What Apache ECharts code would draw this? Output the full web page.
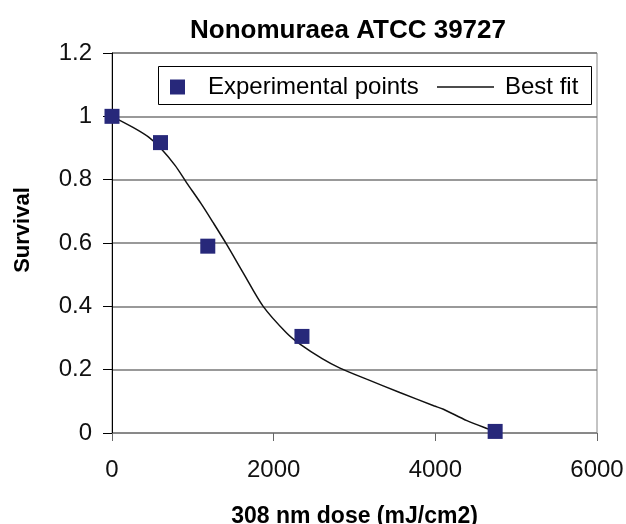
<!DOCTYPE html>
<html><head><meta charset="utf-8">
<script src="https://cdn.jsdelivr.net/npm/echarts@6/dist/echarts.min.js"></script>
<style>html,body{margin:0;padding:0;background:#fff}#c{width:626px;height:524px}</style>
</head><body><div id="c"></div>
<script>
const titleText = "Nonomuraea ATCC 39727";
const xName = "308 nm dose (mJ/cm2)";
const yName = "Survival";
const expDose = [0, 600, 1185, 2350, 4740];
const expSurvival = [1.0, 0.917, 0.59, 0.305, 0.005];
const fitDose = [0, 260, 450, 600, 780, 924, 1100, 1250, 1420, 1625, 1870, 2160, 2330, 2600, 2820, 3150, 3560, 3980, 4100, 4390, 4650, 4740];
const fitSurvival = [1.0, 0.965, 0.935, 0.9, 0.845, 0.79, 0.725, 0.665, 0.595, 0.505, 0.40, 0.316, 0.28, 0.235, 0.205, 0.17, 0.128, 0.086, 0.075, 0.039, 0.013, 0.005];

const font = "Arial, 'Liberation Sans', sans-serif";
const chart = echarts.init(document.getElementById('c'));
chart.setOption({
  animation: false,
  backgroundColor: '#fff',
  title: {
    text: titleText, left: 343, top: 13, textAlign: 'center',
    textStyle: {fontFamily: font, fontSize: 26, fontWeight: 'bold', color: '#000'}
  },
  graphic: [{
    type: 'rect', left: 158, top: 66, z: 5,
    shape: {width: 433, height: 38},
    style: {fill: '#fff', stroke: '#000', lineWidth: 1}
  }],
  legend: [{
    data: ['Experimental points'], left: 165, top: 70, z: 10,
    itemWidth: 15, itemHeight: 15, icon: 'rect',
    textStyle: {fontFamily: font, fontSize: 24, color: '#000', padding: [0, 0, 0, 18]}
  }, {
    data: ['Best fit'], left: 432, top: 70, z: 10,
    itemWidth: 57, itemHeight: 1.5, icon: 'rect',
    textStyle: {fontFamily: font, fontSize: 24, color: '#000', padding: [0, 0, 0, 6]}
  }],
  grid: {left: 112, right: 29, top: 53, bottom: 91, show: true, borderColor: '#888', borderWidth: 1,
    containLabel: false, outerBoundsMode: 'none'},
  xAxis: {
    type: 'value', min: 0, max: 6000, interval: 2000,
    name: xName, nameLocation: 'middle', nameGap: 72,
    nameTextStyle: {fontFamily: font, fontSize: 23, fontWeight: 'bold', color: '#000'},
    axisLine: {show: true, lineStyle: {color: '#888', width: 1}},
    axisTick: {show: true, inside: false, length: 8, lineStyle: {color: '#666'}},
    axisLabel: {fontFamily: font, fontSize: 24, color: '#111', margin: 25,
      formatter: v => String(v)},
    splitLine: {show: false}
  },
  yAxis: {
    type: 'value', min: 0, max: 1.2, interval: 0.2,
    name: yName, nameLocation: 'middle', nameGap: 78, nameRotate: 90,
    nameTextStyle: {fontFamily: font, fontSize: 22, fontWeight: 'bold', color: '#000', padding: [0, 0, 0, 26]},
    axisLine: {show: true, lineStyle: {color: '#000', width: 1}},
    axisTick: {show: true, inside: false, length: 9, lineStyle: {color: '#000'}},
    axisLabel: {fontFamily: font, fontSize: 24, color: '#111', margin: 20,
      formatter: v => String(Math.round(v * 10) / 10)},
    splitLine: {show: true, lineStyle: {color: '#777', width: 1.5}}
  },
  series: [{
    name: 'Experimental points', type: 'scatter', symbol: 'rect', symbolSize: 15, z: 4,
    itemStyle: {color: '#27287a', opacity: 1},
    data: expDose.map((d, i) => [d, expSurvival[i]])
  }, {
    name: 'Best fit', type: 'line', smooth: 0.3, showSymbol: false, symbol: 'none', z: 3,
    lineStyle: {color: '#111', width: 1.5},
    itemStyle: {color: '#111'},
    data: fitDose.map((d, i) => [d, fitSurvival[i]])
  }]
});
</script></body></html>
